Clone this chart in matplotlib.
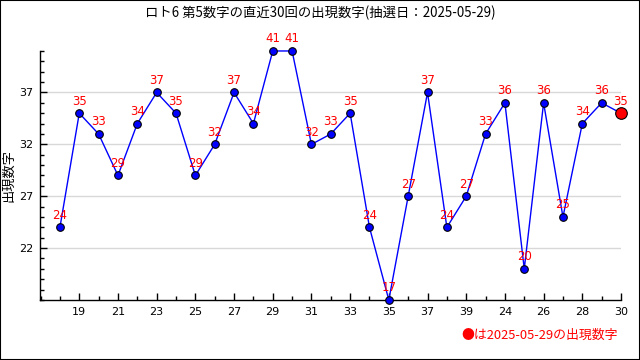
import matplotlib
matplotlib.use("Agg")
import matplotlib.pyplot as plt
from matplotlib.ticker import MultipleLocator, FixedLocator
from matplotlib.patches import Rectangle

plt.rcParams['font.family'] = ['DejaVu Sans', 'Noto Sans CJK JP']

title = "ロト6 第5数字の直近30回の出現数字(抽選日：2025-05-29)"
ylabel = "出現数字"
note = "●は2025-05-29の出現数字"
values = [24, 35, 33, 29, 34, 37, 35, 29, 32, 37, 34, 41, 41, 32, 33,
          35, 24, 17, 27, 37, 24, 27, 33, 36, 20, 36, 25, 34, 36, 35]
tick_labels = ["19", "21", "23", "25", "27", "29", "31", "33", "35", "37",
               "39", "24", "26", "28", "30"]
y_ticks = [22, 27, 32, 37]

fig = plt.figure(figsize=(6.4, 3.6), dpi=100)
fig.patches.append(Rectangle((0, 0), 1, 1, transform=fig.transFigure,
                             fill=False, edgecolor='black', linewidth=1.5))
ax = fig.add_axes([0.0625, 0.1667, 0.9078, 0.6917])

x = list(range(len(values)))
ax.plot(x, values, color='#0000ff', linewidth=1, zorder=3, clip_on=False)
ax.scatter(x[:-1], values[:-1], s=30, color='#0000ff', edgecolor='black',
           linewidth=0.8, zorder=4, clip_on=False)
ax.scatter([x[-1]], [values[-1]], s=70, color='#ff0000', edgecolor='black',
           linewidth=0.8, zorder=4, clip_on=False)
for xi, v in zip(x, values):
    ax.annotate(str(v), (xi, v), xytext=(0, 4), textcoords='offset points',
                ha='center', va='bottom', color='#ff0000', fontsize=8.5,
                zorder=5, annotation_clip=False)

ax.set_xlim(-1.03, 29)
ax.set_ylim(17, 41)
ax.xaxis.set_major_locator(FixedLocator(list(range(1, 30, 2))))
ax.set_xticklabels(tick_labels)
ax.xaxis.set_minor_locator(MultipleLocator(1))
ax.set_yticks(y_ticks)
ax.yaxis.set_minor_locator(MultipleLocator(1))
ax.tick_params(axis='both', which='major', direction='in', length=5,
               width=1, labelsize=8, pad=5)
ax.tick_params(axis='both', which='minor', direction='in', length=3, width=1)
ax.grid(axis='y', which='major', color='#d8d8d8', linewidth=1, zorder=0)
for s in ['top', 'right']:
    ax.spines[s].set_visible(False)
for s in ['left', 'bottom']:
    ax.spines[s].set_linewidth(1)

fig.text(0.0135, 0.513, ylabel, rotation=90, ha='center', va='center',
         fontsize=9.5, family=['Noto Sans CJK JP'])
fig.text(0.5, 0.965, title, ha='center', va='center', fontsize=9.6,
         family=['Noto Sans CJK JP', 'DejaVu Sans'])
fig.text(0.966, 0.068, note, ha='right', va='center', fontsize=9.3,
         color='#ff0000', family=['Noto Sans CJK JP', 'DejaVu Sans'])

fig.savefig("out.png", dpi=100)
